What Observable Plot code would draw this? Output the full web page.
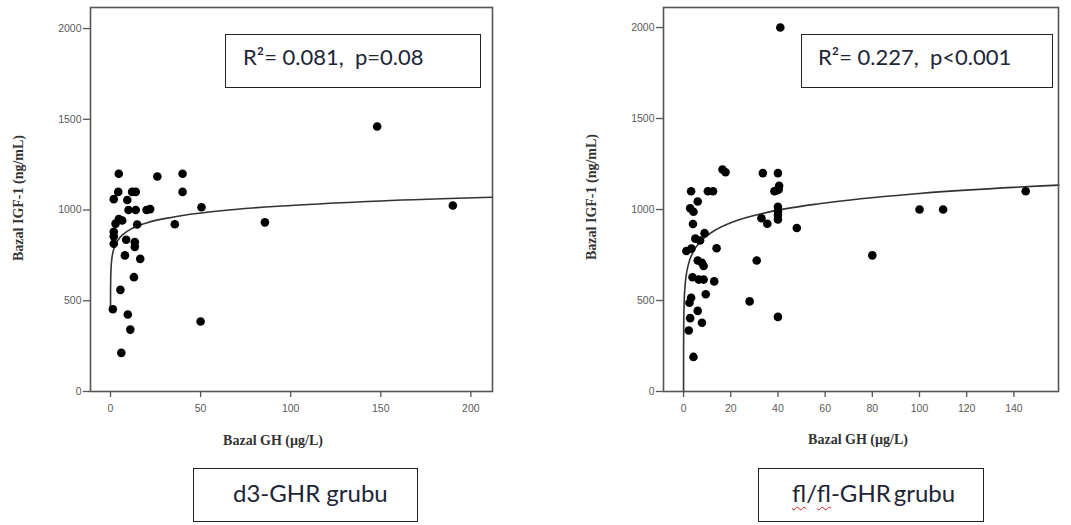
<!DOCTYPE html>
<html>
<head>
<meta charset="utf-8">
<script src="https://cdn.jsdelivr.net/npm/d3@7"></script>
<script src="https://cdn.jsdelivr.net/npm/@observablehq/plot@0.6"></script>
<style>
  html, body { margin: 0; padding: 0; background: #fff; }
  #wrap { position: relative; width: 1071px; height: 525px; overflow: hidden; background: #fff; }
  .panel { position: absolute; top: 0; }
  .xt, .yt { position: absolute; font-family: "Liberation Serif", serif; font-weight: bold; font-size: 14px; color: #333; white-space: nowrap; }
  .xt { transform: translate(-50%, -50%); }
  .yt { transform: translate(-50%, -50%) rotate(-90deg); }
  .box { position: absolute; border: 1.5px solid #222; box-sizing: border-box; background: #fff; }
  .box span { position: absolute; white-space: pre; font-family: Lato, "Open Sans", sans-serif; color: #1e2537; }
  .sq { text-decoration: underline wavy #e02020; text-decoration-thickness: 1px; text-underline-offset: 4px; }
</style>
</head>
<body>
<div id="wrap"></div>
<script>
// ---- d3-GHR grubu (left panel) ----
const leftGH  = [4.6,26,40,40,148,4.3,12,14,1.8,9.3,10,14,20,22,50.5,190,4.6,6.5,2.8,14.8,35.7,85.7,1.8,1.8,8.7,1.8,13.5,13.5,8,16.5,13,5.5,1.3,9.6,11,50,6];
const leftIGF = [1200,1185,1200,1100,1460,1100,1100,1100,1060,1055,1000,1000,1000,1005,1015,1025,950,942,925,920,922,932,880,855,836,814,823,797,750,731,630,560,453,424,341,386,213];
const leftFitGH  = [0.007,0.02,0.05,0.1,0.3,0.6,1,2,4,7,12,20,35,60,100,150,212];
const leftFitIGF = [451,514,569,611,677,718,749,791,832,866,898,929,962,995,1025,1050,1070];
const leftTicksX = [0,50,100,150,200];

// ---- fl/fl-GHR grubu (right panel) ----
const rightGH  = [41,16.5,17.8,33.6,40,38.5,39.5,40.3,40.5,3.2,10.3,12.5,6,2.8,4.2,40,40,40,40,33,35.5,4,48,100,110,145,80,31,28,40,14,13,1.2,3.3,5,7,8.9,6,7.8,8.5,3.8,6.4,8.5,9.4,3.2,2.5,6,7.8,2.8,2.2,4.2];
const rightIGF = [2000,1220,1205,1200,1200,1100,1105,1110,1130,1100,1100,1100,1044,1007,988,1015,990,970,945,952,922,920,898,1000,1000,1100,748,720,495,410,787,605,772,785,840,830,870,720,707,690,628,615,615,534,515,488,443,378,403,335,190];
const rightFitGH  = [0.0019,0.005,0.02,0.05,0.1,0.3,0.6,1,2,4,7,12,20,35,60,100,159];
const rightFitIGF = [0,97,236,327,397,507,576,627,696,766,822,875,927,983,1036,1088,1134];
const rightTicksX = [0,20,40,60,80,100,120,140];

const ticksY = [0,500,1000,1500,2000];
const xTitle = "Bazal GH (µg/L)";
const yTitle = "Bazal IGF-1 (ng/mL)";
const statLeft = "R²= 0.081,  p=0.08";
const statRight = "R²= 0.227,  p<0.001";

const wrap = document.getElementById("wrap");

function panel(opts) {
  const pts = opts.gh.map((g, i) => ({x: g, y: opts.igf[i]}));
  const fit = opts.fitGH.map((g, i) => ({x: g, y: opts.fitIGF[i]}));
  const svg = Plot.plot({
    width: opts.width, height: 460,
    marginLeft: opts.ml, marginRight: opts.mr, marginTop: 7, marginBottom: 69,
    x: {domain: opts.xDomain},
    y: {domain: [0, opts.yMax]},
    style: {fontFamily: "'Liberation Sans', sans-serif", fontSize: "10.5px", color: "#5a5a5a", background: "transparent", overflow: "visible"},
    marks: [
      Plot.axisY({ticks: ticksY, tickFormat: d => String(d), tickSize: 7, tickPadding: 2, label: null, stroke: "#555", strokeWidth: 1.3}),
      Plot.axisX({ticks: opts.ticksX, tickFormat: d => String(d), tickSize: 6, tickPadding: 7, label: null, stroke: "#555", strokeWidth: 1.3}),
      Plot.line(fit, {x: "x", y: "y", curve: "monotone-x", stroke: "#333", strokeWidth: 1.6}),
      Plot.dot(pts, {x: "x", y: "y", r: 4.3, fill: "#000", stroke: "none"}),
      Plot.frame({stroke: "#555", strokeWidth: 1.6})
    ]
  });
  svg.classList.add("panel");
  svg.style.left = opts.left + "px";
  wrap.appendChild(svg);
}

panel({gh: leftGH, igf: leftIGF, fitGH: leftFitGH, fitIGF: leftFitIGF, ticksX: leftTicksX,
       width: 520, left: 0, ml: 90, mr: 28, xDomain: [-11.1, 212], yMax: 2116});
panel({gh: rightGH, igf: rightIGF, fitGH: rightFitGH, fitIGF: rightFitIGF, ticksX: rightTicksX,
       width: 531, left: 540, ml: 123, mr: 13, xDomain: [-8.5, 158.9], yMax: 2110});

function addDiv(cls, text, x, y) {
  const d = document.createElement("div");
  d.className = cls; d.textContent = text;
  d.style.left = x + "px"; d.style.top = y + "px";
  wrap.appendChild(d);
  return d;
}
addDiv("xt", xTitle, 273, 441);
addDiv("xt", xTitle, 858, 440);
addDiv("yt", yTitle, 19, 198);
addDiv("yt", yTitle, 592, 197);

function addBox(x, y, w, h, html, tx, ty, fs) {
  const b = document.createElement("div");
  b.className = "box";
  b.style.left = x + "px"; b.style.top = y + "px";
  b.style.width = w + "px"; b.style.height = h + "px";
  const s = document.createElement("span");
  s.innerHTML = html;
  s.style.left = tx + "px"; s.style.top = ty + "px";
  s.style.fontSize = fs + "px"; s.style.lineHeight = "1";
  b.appendChild(s);
  wrap.appendChild(b);
}
addBox(225, 34, 256, 54, statLeft, 17, 11, 22);
addBox(801, 34, 252, 54, statRight, 16, 11, 22);
addBox(193, 468, 225, 54, "d3-GHR grubu", 39, 12, 24);
addBox(758, 468, 226, 54, '<span class="sq" style="position:static">fl</span>/<span class="sq" style="position:static">fl</span>-GHR&thinsp;grubu', 33, 12, 24);
</script>
</body>
</html>
